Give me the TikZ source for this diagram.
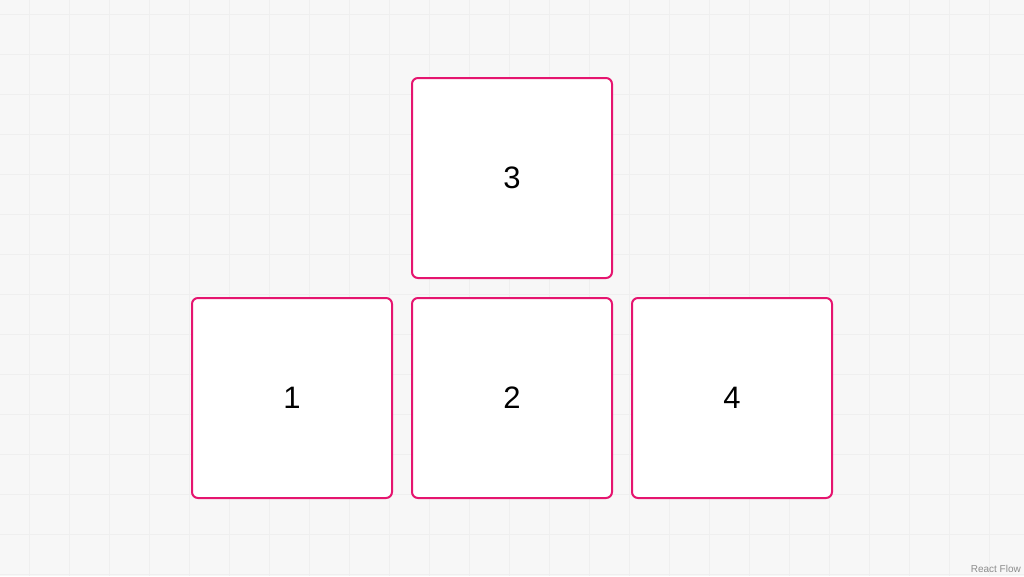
\documentclass[tikz,border=0pt]{standalone}
\usepackage{fontspec}
\setmainfont{Liberation Sans}
\definecolor{bg}{HTML}{F7F7F7}
\definecolor{gridc}{HTML}{EFEFEF}
\definecolor{pinkb}{HTML}{E5156F}
\definecolor{attr}{HTML}{8C8C8C}
\tikzset{
  nodebox/.style={draw=pinkb, line width=2pt, fill=white, rounded corners=6pt,
    minimum width=200pt, minimum height=200pt, inner sep=0pt,
    font=\fontsize{31}{31}\selectfont, text=black},
}
\begin{document}
\begin{tikzpicture}[x=1pt,y=-1pt]
\fill[bg] (0,0) rectangle (1024,576);
\useasboundingbox (0,0) rectangle (1024,576);
\foreach \x in {29,69,...,1024} \draw[gridc, line width=1pt] (\x,0) -- (\x,576);
\foreach \y in {14,54,...,576} \draw[gridc, line width=1pt] (0,\y) -- (1024,\y);
\node[nodebox] (n3) at (512,178) {3};
\node[nodebox] (n1) at (292,398) {1};
\node[nodebox] (n2) at (512,398) {2};
\node[nodebox] (n4) at (732,398) {4};
\node[anchor=base east, text=attr, font=\fontsize{10}{10}\selectfont, inner sep=0pt] (attrib) at (1021,572) {React Flow};
\end{tikzpicture}
\end{document}
